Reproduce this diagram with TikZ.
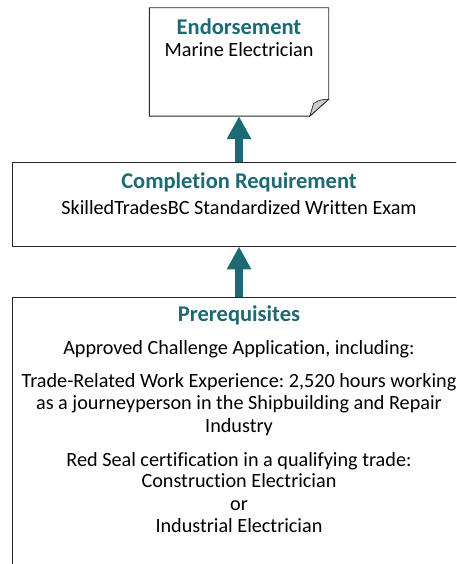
\documentclass[tikz,border=0pt]{standalone}
\usepackage{fontspec}
\setmainfont{Carlito}[Ligatures = {NoCommon}]
\usetikzlibrary{arrows.meta}
\definecolor{reqteal}{HTML}{1C6A74}
\frenchspacing
\begin{document}
\begin{tikzpicture}[x = 1pt, y = -1pt,
  box/.style = {draw = black!85, line width = .9pt, inner sep = 0pt},
  title/.style = {anchor = base, color = reqteal, font = \fontsize{22.5}{26}\selectfont\bfseries},
  line/.style = {anchor = base, font = \fontsize{20.2}{24}\selectfont},
  upstep/.style = {draw = reqteal, line width = 7.5pt, -{Triangle[length = 23pt, width = 23pt]}}]
\clip (0,0) rectangle (456,564);
% boxes
\node (endorse) [inner sep = 0pt, minimum width = 179pt, minimum height = 108pt] at (239,62) {};
\draw [box] (endorse.north west) -- (endorse.north east) -- ([yshift = 17pt]endorse.south east)
  -- ([xshift = -19pt]endorse.south east) -- (endorse.south west) -- cycle;
\filldraw [fill = gray!40, draw = black!85, line width = .7pt] ([xshift = -19pt]endorse.south east)
  -- ([yshift = 17pt]endorse.south east) to[bend right = 15] ([xshift = -15pt, yshift = 13pt]endorse.south east) -- cycle;
\node (compl) [box, minimum width = 454pt, minimum height = 84pt] at (239,204) {};
\node (prereq) [box, minimum width = 454pt, minimum height = 300pt, anchor = north] at (239,297) {};
% texts
\node (endtitle) [title] at (239,35) {Endorsement};
\node (endtext) [line] at (239,57) {Marine Electrician};
\node (compltitle) [title] at (239,188) {Completion Requirement};
\node (compltext) [line] at (239,214) {SkilledTradesBC Standardized Written Exam};
\node (pretitle) [title] at (239,321) {Prerequisites};
\node (pre1) [line] at (239,354) {Approved Challenge Application, including:};
\node (pre2) [line] at (239,387) {Trade-Related Work Experience: 2,520 hours working};
\node (pre3) [line] at (239,409) {as a journeyperson in the Shipbuilding and Repair};
\node (pre4) [line] at (239,432) {Industry};
\node (pre5) [line] at (239,466) {Red Seal certification in a qualifying trade:};
\node (pre6) [line] at (239,487) {Construction Electrician};
\node (pre7) [line] at (239,510) {or};
\node (pre8) [line] at (239,532) {Industrial Electrician};
% arrows
\draw [upstep] (prereq) -- (compl);
\draw [upstep] (compl) -- (endorse);
\end{tikzpicture}
\end{document}
